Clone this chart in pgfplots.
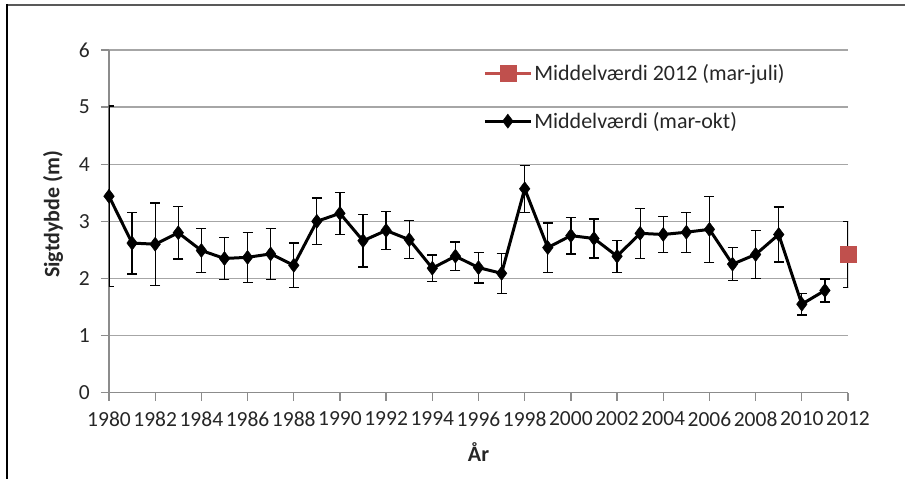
\documentclass[border=0pt]{standalone}
\usepackage{pgfplots}
\pgfplotsset{compat=1.18}
\usepackage{fontspec}
\setmainfont{Carlito}
\definecolor{exred}{HTML}{C0504D}
\definecolor{gridc}{HTML}{A6A6A6}
\definecolor{axisc}{HTML}{8C8C8C}
\definecolor{txt}{HTML}{262626}

% mean values (mar-okt) with symmetric error
\pgfplotstableread{
year y err
1980 3.44 1.58
1981 2.62 0.54
1982 2.60 0.72
1983 2.80 0.46
1984 2.49 0.38
1985 2.35 0.37
1986 2.37 0.44
1987 2.43 0.45
1988 2.23 0.39
1989 3.00 0.41
1990 3.14 0.37
1991 2.66 0.46
1992 2.84 0.33
1993 2.68 0.33
1994 2.18 0.23
1995 2.39 0.25
1996 2.19 0.27
1997 2.09 0.35
1998 3.57 0.41
1999 2.54 0.43
2000 2.75 0.32
2001 2.70 0.34
2002 2.39 0.28
2003 2.79 0.44
2004 2.77 0.31
2005 2.81 0.35
2006 2.86 0.58
2007 2.25 0.29
2008 2.42 0.42
2009 2.77 0.48
2010 1.55 0.19
2011 1.79 0.20
}\tabmean

\pgfplotstableread{
year y err
2012 2.42 0.58
}\tabtwelve

\begin{document}
\begin{tikzpicture}
\useasboundingbox (-109pt,-86.3pt) rectangle (796pt,392.7pt);
\begin{axis}[
  at={(0,0)}, anchor=south west,
  scale only axis,
  width=739pt, height=342.7pt,
  xmin=1980, xmax=2012,
  ymin=0, ymax=6,
  xtick={1980,1982,...,2012},
  ytick={0,1,...,6},
  axis x line*=bottom, axis y line*=left,
  axis line style={axisc, line width=1.3pt, -},
  tick align=outside,
  major tick length=8pt,
  tick style={axisc, line width=1.3pt},
  ymajorgrids,
  grid style={gridc, line width=1.3pt},
  /pgf/number format/assume math mode=true,
  /pgf/number format/1000 sep={},
  tick label style={font=\fontsize{21.5}{25}\selectfont, text=txt},
  xticklabel style={inner sep=1pt, yshift=-10pt},
  yticklabel style={inner sep=2pt, xshift=-9pt},
  xlabel={\textbf{År}},
  ylabel={\textbf{Sigtdybde (m)}},
  label style={font=\fontsize{22}{26}\selectfont, text=txt},
  xlabel style={at={(axis description cs:0.5,-0.172)}, anchor=center},
  ylabel style={at={(axis description cs:-0.0758,0.52)}, anchor=center},
  legend style={draw=none, fill=none, at={(axis cs:1996.2,5.78)}, anchor=north west,
    font=\fontsize{22}{26}\selectfont, text=txt, row sep=26pt,
    inner sep=0pt, nodes={inner sep=2pt}},
  legend cell align=left,
  reverse legend,
  legend image code/.code={
    \draw[#1, mark repeat=2, mark phase=2] plot coordinates {(0pt,0pt) (23pt,0pt) (46pt,0pt)};
  },
]
\addplot[black, line width=3pt, mark=diamond*, mark size=7pt,
  mark options={line width=0.5pt, fill=black},
  error bars/.cd, y dir=both, y explicit,
  error bar style={black, line width=1.3pt},
  error mark options={rotate=90, mark size=5pt, line width=1.3pt, black}]
  table[x=year, y=y, y error=err] {\tabmean};
\addlegendentry{Middelværdi (mar-okt)}

\addplot[exred, line width=3pt, mark=square*, mark size=8pt,
  mark options={line width=0.5pt, fill=exred},
  error bars/.cd, y dir=both, y explicit,
  error bar style={black, line width=1.3pt},
  error mark options={rotate=90, mark size=5pt, line width=1.3pt, black}]
  table[x=year, y=y, y error=err] {\tabtwelve};
\addlegendentry{Middelværdi 2012 (mar-juli)}
\end{axis}
% chart frame edges
\draw[black!65, line width=2pt] (-102pt,387.7pt) -- (796pt,387.7pt);
\draw[black, line width=2pt] (-102pt,388.7pt) -- (-102pt,-86.3pt);
\end{tikzpicture}
\end{document}
